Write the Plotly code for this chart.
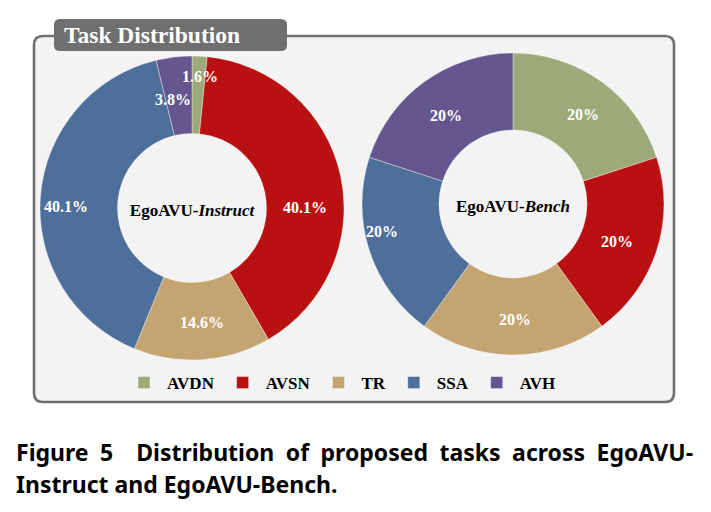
import math
import plotly.graph_objects as go

W, H = 711, 512

tasks = ["AVDN", "AVSN", "TR", "SSA", "AVH"]
colors = ["#9BAA78", "#B91112", "#C4A572", "#4F6F9B", "#64578F"]
instruct_pct = [1.6, 40.1, 14.6, 40.1, 3.8]
bench_pct = [20, 20, 20, 20, 20]
instruct_name = "EgoAVU-<i>Instruct</i>"
bench_name = "EgoAVU-<i>Bench</i>"
panel_title = "Task Distribution"
caption1 = "Figure\u20025\u2002\u2002Distribution\u2002of\u2002proposed\u2002tasks\u2002across\u2002EgoAVU-"
caption2 = "Instruct and EgoAVU-Bench."

SERIF = "Liberation Serif"
SANS = "Noto Sans"

# label placement style (radius in px, angular nudge in degrees)
instruct_label_r = [132, 113, 115, 126, 110]
instruct_label_nudge = [0.5, 12, -1, -3.6, -3]
bench_label_r = [113, 111, 116, 134, 111]
bench_label_nudge = [2, 2, -1, 6, -1]


def px(x):
    return x / W


def py(y):
    return 1 - y / H


def rrect(x0, y0, x1, y1, r):
    p = [
        f"M {px(x0 + r)},{py(y0)}",
        f"L {px(x1 - r)},{py(y0)}",
        f"Q {px(x1)},{py(y0)} {px(x1)},{py(y0 + r)}",
        f"L {px(x1)},{py(y1 - r)}",
        f"Q {px(x1)},{py(y1)} {px(x1 - r)},{py(y1)}",
        f"L {px(x0 + r)},{py(y1)}",
        f"Q {px(x0)},{py(y1)} {px(x0)},{py(y1 - r)}",
        f"L {px(x0)},{py(y0 + r)}",
        f"Q {px(x0)},{py(y0)} {px(x0 + r)},{py(y0)}",
        "Z",
    ]
    return " ".join(p)


def donut(values, name, cx, cy, r):
    return go.Pie(
        labels=tasks,
        values=values,
        sort=False,
        direction="clockwise",
        rotation=0,
        hole=0.49,
        marker=dict(colors=colors, line=dict(color="rgba(255,255,255,0.6)", width=0.6)),
        textinfo="none",
        title=dict(text=name, position="middle center",
                   font=dict(family=SERIF, size=17, color="black", weight="bold")),
        domain=dict(x=[px(cx - r), px(cx + r)], y=[py(cy + r), py(cy - r)]),
        hoverinfo="skip",
    )


def pct_labels(values, cx, cy, radii, nudges):
    total = sum(values)
    out = []
    cum = 0.0
    for v, rl, nd in zip(values, radii, nudges):
        theta = math.radians(360.0 * (cum + v / 2.0) / total + nd)
        cum += v
        x = cx + rl * math.sin(theta)
        y = cy - rl * math.cos(theta)
        out.append(dict(text=f"{v:g}%", x=px(x), y=py(y), xref="paper", yref="paper",
                        xanchor="center", yanchor="middle", showarrow=False,
                        font=dict(family=SERIF, size=16, color="white", weight="bold")))
    return out


fig = go.Figure()
fig.add_trace(donut(instruct_pct, instruct_name, 192, 208, 152))
fig.add_trace(donut(bench_pct, bench_name, 513, 204, 151))

shapes = [
    dict(type="path", xref="paper", yref="paper", path=rrect(34, 36, 674, 402, 9),
         fillcolor="#F3F3F3", line=dict(color="#707070", width=2.6), layer="below"),
    dict(type="path", xref="paper", yref="paper", path=rrect(54, 19, 287, 51, 6),
         fillcolor="#6F6F6F", line=dict(width=0), layer="below"),
]

annotations = [
    dict(text=panel_title, x=px(62), y=py(35), xref="paper", yref="paper",
         xanchor="left", yanchor="middle", showarrow=False,
         font=dict(family=SERIF, size=23.5, color="white", weight="bold")),
    dict(text=caption1, x=px(14), y=py(452), xref="paper", yref="paper",
         xanchor="left", yanchor="middle", showarrow=False,
         font=dict(family=SANS, size=23, color="black", weight="bold")),
    dict(text=caption2, x=px(14), y=py(484), xref="paper", yref="paper",
         xanchor="left", yanchor="middle", showarrow=False,
         font=dict(family=SANS, size=23, color="black", weight="bold")),
]
annotations += pct_labels(instruct_pct, 192, 208, instruct_label_r, instruct_label_nudge)
annotations += pct_labels(bench_pct, 513, 204, bench_label_r, bench_label_nudge)

fig.update_layout(
    width=W, height=H,
    margin=dict(l=0, r=0, t=0, b=0),
    paper_bgcolor="white",
    plot_bgcolor="white",
    shapes=shapes,
    annotations=annotations,
    showlegend=True,
    legend=dict(orientation="h", x=px(341), xanchor="center", y=py(383), yanchor="middle",
                bgcolor="rgba(0,0,0,0)", itemwidth=36,
                font=dict(family=SERIF, size=17, color="black", weight="bold"),
                traceorder="normal"),
)

fig.write_html("out.html")
